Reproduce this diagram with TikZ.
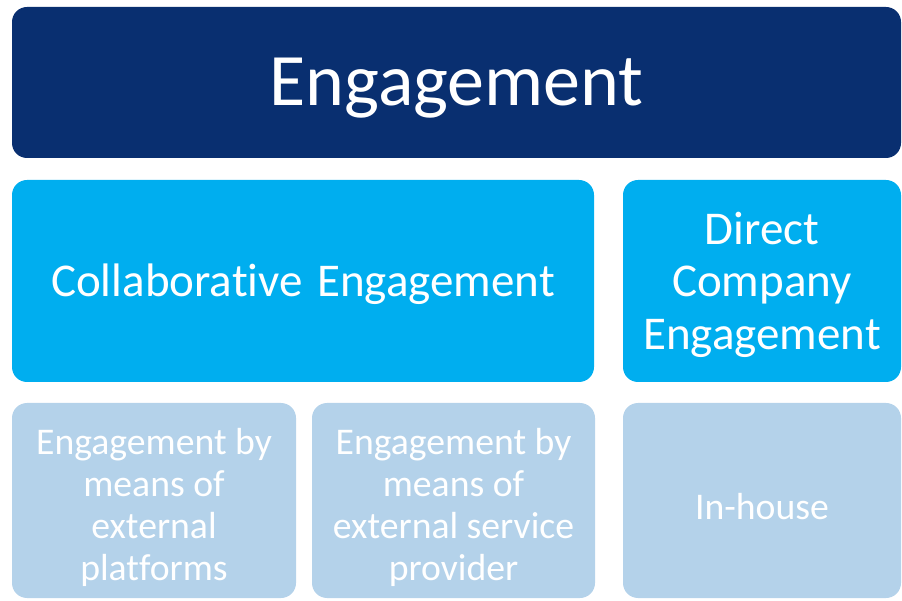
\documentclass[tikz,border=0pt]{standalone}
\usepackage{fontspec}
\setmainfont[Ligatures={TeX,NoCommon}]{Carlito}

% Box colours
\definecolor{navy}{RGB}{9,47,112}
\definecolor{skyblue}{RGB}{0,174,239}
\definecolor{paleblue}{RGB}{180,210,234}

\tikzset{
	box/.style={rounded corners=15pt, inner sep=0pt},
	txt/.style={inner sep=0pt, align=center, text=white},
	toplevel/.style={box, fill=navy, minimum height=151pt,
		label={[txt, yshift=-6pt, font=\fontsize{74}{80}\selectfont]center:#1}},
	midlevel/.style={box, fill=skyblue, minimum height=202pt,
		label={[txt, yshift=-3.5pt, font=\fontsize{47}{52.5}\selectfont]center:#1}},
	lowlevel/.style={box, fill=paleblue, minimum height=195pt,
		label={[txt, yshift=-6.5pt, font=\fontsize{37.7}{42}\selectfont]center:#1}}
}

\begin{document}
\begin{tikzpicture}[x=1pt, y=1pt]
	% Fix the page size
	\useasboundingbox (0,0) rectangle (902,600);

	% Top level (engagement)
	\node[toplevel={Engagement}, minimum width=889pt] (engage) at (456.5,517.5) {};

	% Middle level: collaborative (collab) and direct company engagement (direct)
	\node[midlevel={Collaborative\hspace{4pt} Engagement}, minimum width=582pt] (collab) at (303,319) {};
	\node[midlevel={Direct\\Company\\Engagement}, minimum width=278pt] (direct) at (762,319) {};

	% Bottom level: external platforms (platf), external service provider (provider), in-house (inhouse)
	\node[lowlevel={Engagement by\\means of\\external\\platforms}, minimum width=284pt] (platf) at (154,99.5) {};
	\node[lowlevel={Engagement by\\means of\\external service\\provider}, minimum width=283pt] (provider) at (453.5,99.5) {};
	\node[lowlevel={In-house}, minimum width=278pt] (inhouse) at (762,99.5) {};
\end{tikzpicture}
\end{document}
